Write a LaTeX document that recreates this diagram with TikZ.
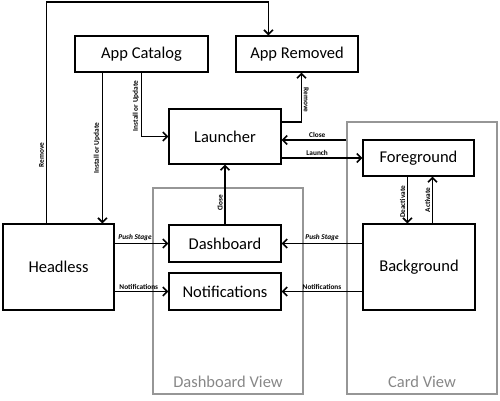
\documentclass[tikz,border=0pt]{standalone}
\usepackage{fontspec}
\setmainfont{Carlito}
\usetikzlibrary{arrows.meta,calc}
\definecolor{framegray}{RGB}{150,150,150}
\definecolor{labelgray}{RGB}{135,135,135}
\tikzset{
  box/.style={draw=black, line width=1.1pt, fill=white, inner sep=0pt,
    font=\fontsize{16.5}{18}\selectfont},
  viewframe/.style={draw=framegray, line width=1.1pt, inner sep=0pt},
  viewlabel/.style={text=labelgray, font=\fontsize{16.5}{18}\selectfont},
  arr/.style={line width=1.8pt, -{Straight Barb[length=4.5pt,width=9pt,line width=1.6pt]}},
  lbl/.style={font=\bfseries\fontsize{7.3}{8}\selectfont, inner sep=1.5pt},
  ilbl/.style={font=\bfseries\itshape\fontsize{7.3}{8}\selectfont, inner sep=1.5pt},
}
\begin{document}
\begin{tikzpicture}[x=1pt,y=-1pt]
\useasboundingbox (0,0) rectangle (500,400);
% view frames
\node[viewframe, minimum width=150pt, minimum height=206pt] (dashview) at (228,291) {};
\node[viewframe, minimum width=150pt, minimum height=272pt] (cardview) at (422,258) {};
\node[viewlabel] (dashviewlbl) at (228,382) {Dashboard View};
\node[viewlabel] (cardviewlbl) at (422,382) {Card View};
% boxes
\node[box, minimum width=133pt, minimum height=36pt] (catalog) at (141.5,54) {App Catalog};
\node[box, minimum width=122pt, minimum height=36pt] (removed) at (297,54) {App Removed};
\node[box, minimum width=112pt, minimum height=55pt] (launcher) at (225,136.5) {Launcher};
\node[box, minimum width=111pt, minimum height=36pt] (fore) at (418.5,158) {Foreground};
\node[box, minimum width=111pt, minimum height=86pt] (headless) at (58.5,267) {Headless};
\node[box, minimum width=112pt, minimum height=37pt] (dash) at (225,243.5) {Dashboard};
\node[box, minimum width=112pt, minimum height=37pt] (notif) at (225,291.5) {Notifications};
\node[box, minimum width=112pt, minimum height=86pt] (back) at (419,267) {Background};
% helper coordinates
\coordinate (topline) at (250,2);
\coordinate (closey) at (0,140);
\coordinate (remA) at ([xshift=44pt]headless.north west);
\coordinate (remB) at ([xshift=33pt]removed.north west);
\coordinate (instA) at ([xshift=28pt]catalog.south west);
\coordinate (instB) at ([xshift=67pt]catalog.south west);
\coordinate (lremA) at ([yshift=14.5pt]launcher.east);
\coordinate (lremB) at ([xshift=66pt]removed.south west);
\coordinate (deact) at ([xshift=45pt]fore.south west);
\coordinate (act) at ([xshift=70pt]back.north west);
% connectors
\draw[arr] (remA) |- node[lbl, pos=0.155, rotate=90, anchor=south]{Remove} (topline) -| (remB);
\draw[arr] (instA) -- node[lbl, pos=0.5, rotate=90, anchor=south]{Install or Update} (instA |- headless.north);
\draw[arr] (instB) |- node[lbl, pos=0.26, rotate=90, anchor=south]{Install or Update} (launcher.west);
\draw[arr] (lremA) -| node[lbl, pos=0.72, rotate=-90, anchor=south]{Remove} (lremB);
\draw[arr] (cardview.west |- closey) -- node[lbl, pos=0.45, above]{Close} (launcher.east |- closey);
\draw[arr] (launcher.east |- fore.west) -- node[lbl, pos=0.44, above]{Launch} (fore.west);
\draw[arr] (dash.north) -- node[lbl, pos=0.36, rotate=90, anchor=south]{Close} (launcher.south);
\draw[arr] (deact) -- node[lbl, pos=0.54, rotate=90, anchor=south]{Deactivate} (deact |- back.north);
\draw[arr] (act) -- node[lbl, pos=0.5, rotate=90, anchor=south]{Activate} (act |- fore.south);
\draw[arr] (headless.east |- dash.west) -- node[ilbl, pos=0.38, above]{Push Stage} (dash.west);
\draw[arr] (headless.east |- notif.west) -- node[lbl, pos=0.45, above]{Notifications} (notif.west);
\draw[arr] (back.west |- dash.east) -- node[ilbl, pos=0.5, above]{Push Stage} (dash.east);
\draw[arr] (back.west |- notif.east) -- node[lbl, pos=0.5, above]{Notifications} (notif.east);
\end{tikzpicture}
\end{document}
